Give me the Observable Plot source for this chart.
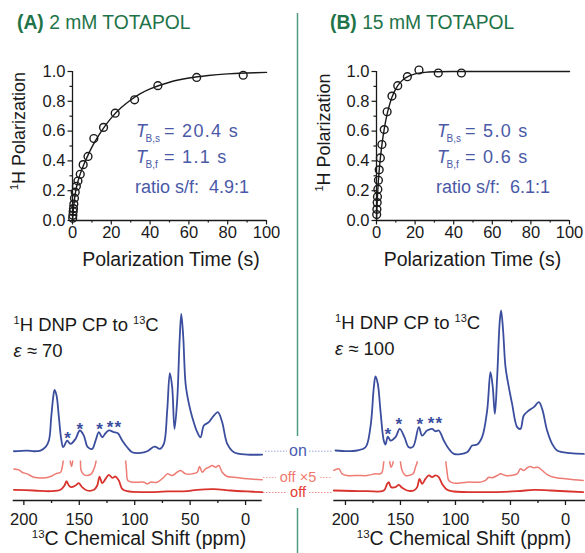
<!DOCTYPE html>
<html>
<head>
<meta charset="utf-8">
<script src="https://cdn.jsdelivr.net/npm/d3@7"></script>
<script src="https://cdn.jsdelivr.net/npm/@observablehq/plot@0.6"></script>
<style>
  html, body { margin: 0; padding: 0; background: #fff; }
  #fig { position: relative; width: 585px; height: 553px; overflow: hidden; background: #fff; }
  .panel { position: absolute; }
</style>
</head>
<body>
<div id="fig"></div>
<script>
// ---------------- DATA ----------------
// (A) 2 mM TOTAPOL – 1H polarization build-up
const timesA = [0.1,0.2,0.35,0.5,0.7,1,1.4,2,2.8,4,5.5,8,11,16,22,32,44,64,88];
const polA   = [0.015,0.035,0.06,0.08,0.11,0.15,0.19,0.23,0.265,0.31,0.375,0.43,0.55,0.625,0.72,0.81,0.905,0.96,0.975];
const fitTimesA = [0,0.25,0.5,1,1.5,2,3,4,6,8,10,12,15,20,25,30,35,40,50,60,70,80,90,100];
const fitPolA   = [0,0.045,0.082,0.141,0.185,0.22,0.272,0.313,0.381,0.439,0.492,0.539,0.602,0.689,0.756,0.809,0.851,0.883,0.928,0.956,0.973,0.984,0.99,0.994];
// (B) 15 mM TOTAPOL
const timesB = [0.1,0.2,0.35,0.5,0.7,1,1.4,2,2.8,4,5.5,8,11,16,22,32,44];
const polB   = [0.04,0.075,0.12,0.16,0.21,0.27,0.34,0.42,0.51,0.61,0.73,0.835,0.905,0.965,1.01,0.99,0.99];
const fitTimesB = [0,0.25,0.5,0.75,1,1.5,2,3,4,5,6,8,10,12,15,20,25,30,40,60,100];
const fitPolB   = [0,0.09,0.162,0.22,0.27,0.352,0.419,0.528,0.614,0.684,0.741,0.827,0.884,0.922,0.957,0.984,0.994,0.998,1,1,1];

const timeTicks = [0,20,40,60,80,100];
const timeMinor = [10,30,50,70,90];
const polTicks  = [0,0.2,0.4,0.6,0.8,1.0];
const polMinor  = [0.1,0.3,0.5,0.7,0.9];

// 13C CP spectra: [ppm, intensity] (intensity relative to tallest "on" peak = 100)
const onA = [[209.0,0.7],[197.0,1.2],[191.0,0.7],[185.0,1.2],[180.5,3.6],[177.4,8.4],[175.3,25.3],[173.5,39.8],[172.3,45.1],[170.5,41.0],[168.4,25.3],[166.3,9.6],[164.5,3.6],[160.9,8.4],[157.9,6.0],[153.4,9.6],[149.5,15.7],[145.9,12.0],[142.3,3.6],[138.3,2.4],[135.3,8.4],[132.3,14.5],[129.3,10.8],[126.3,13.7],[123.3,15.7],[118.8,14.5],[115.2,13.7],[111.3,8.4],[106.8,3.6],[102.3,0],[94.7,-0.5],[88.7,0.7],[82.1,4.1],[77.3,2.4],[73.7,6.0],[70.7,30.1],[68.3,57.1],[66.2,47.0],[64.1,16.9],[61.7,37.3],[59.5,80.7],[58.0,100],[56.2,83.1],[54.1,49.4],[51.1,34.9],[48.1,25.3],[43.6,14.5],[40.6,10.8],[37.6,19.3],[33.1,21.7],[28.6,26.5],[25.0,28.9],[21.1,21.7],[16.5,6.0],[10.5,0],[-1.5,-1.7],[-15.0,-1.7]];
const off5A = [[209.0,6.0],[204.5,5.3],[201.5,3.6],[197.0,2.4],[191.0,0],[182.0,-0.5],[175.9,0.5],[171.4,2.4],[166.9,3.6],[165.4,7.2],[164.5,12.0],[163.3,22],[161.5,33],[159.5,22],[158.5,13.5],[157.0,7.7],[155.5,13.5],[153.5,20],[151.5,27],[150.0,25],[149.0,13.5],[148.3,4.8],[145.9,1.9],[142.3,1.2],[139.2,2.4],[136.2,7.2],[134.7,12.5],[133.5,25],[131.7,50],[129.5,28],[126.3,42],[123.3,56],[120.3,46],[117.3,50],[114.3,36],[111.3,25],[109.0,18],[108.3,13.3],[107.4,4.8],[106.2,-2.4],[102.3,-3.6],[91.7,-3.6],[88.7,-4.8],[85.7,-3.6],[79.7,-3.6],[73.7,0],[70.7,2.4],[66.2,1.2],[61.7,3.6],[58.6,4.8],[54.1,2.4],[48.1,2.4],[43.6,3.6],[41.5,7.7],[39.1,3.6],[36.1,6.0],[33.1,7.2],[30.1,8.4],[27.1,7.2],[24.1,8.4],[21.1,3.6],[16.5,0.5],[10.5,0],[-1.5,-1.2],[-15.0,-1.9]];
const offA = [[209.0,0.5],[191.0,0],[175.9,-0.5],[166.9,0.5],[163.3,3.6],[161.5,6.7],[159.4,3.6],[157.3,2.4],[153.4,3.6],[150.4,5.3],[147.4,2.4],[142.9,0],[136.8,0.5],[133.8,3.6],[131.7,10.1],[129.3,5.3],[126.3,8.4],[123.3,11.3],[120.3,9.2],[117.3,10.1],[114.3,7.2],[111.3,1.2],[106.8,-0.5],[91.7,-1.2],[70.7,-0.7],[52.6,-0.5],[43.6,0.5],[28.6,1.0],[13.5,0],[-1.5,-0.7],[-15.0,-1.2]];
const starsA = [[160.5,13.3],[149.5,19.8],[131.7,19.8],[122.3,20.8],[115.3,20.8]];

const onB = [[209.1,0.5],[198.5,0],[189.4,0.5],[181.8,2.8],[177.3,17.1],[174.2,45.5],[172.7,53.1],[170.6,47.9],[168.2,28.9],[165.2,7.6],[163.6,4.7],[161.5,10.4],[159.1,7.6],[154.5,10.0],[150.6,15.9],[146.4,10.0],[142.4,2.8],[138.5,3.3],[133.3,17.1],[130.3,11.1],[125.8,14.7],[121.2,15.9],[118.2,14.2],[115.2,14.7],[110.6,7.6],[106.1,1.7],[101.5,-1.9],[89.4,-0.7],[84.8,4.0],[80.3,4.7],[75.8,10.0],[71.2,28.9],[68.2,56.2],[66.1,45.5],[64.2,26.5],[62.1,52.6],[59.7,92.9],[58.5,100],[56.7,85.8],[54.5,59.7],[51.5,45.5],[48.5,33.6],[43.9,17.1],[40.9,15.9],[37.9,25.4],[33.3,28.9],[28.8,31.3],[24.2,34.8],[21.2,30.1],[16.7,14.7],[12.1,5.2],[7.6,0.5],[-4.5,-1.4],[-16.7,-1.9]];
const off5B = [[210.6,4.3],[206.1,5.5],[203.0,1.9],[198.5,0.7],[187.9,0.7],[180.3,0.7],[172.7,1.9],[168.2,1.9],[166.7,3.1],[165.2,10.2],[163.6,20],[161.5,30],[160.4,18],[159.7,10.2],[158.5,6.6],[156.7,10.2],[155.6,18],[153.0,26],[151.2,28],[150.6,18],[150.0,10.2],[148.5,4.3],[145.5,0.7],[142.4,0.7],[138.5,1.9],[136.4,6.6],[134.8,10.2],[133.8,22],[132.7,42],[130.3,24],[127.3,42],[124.2,54],[121.2,48],[118.2,54],[115.2,48],[112.1,24],[110.0,16],[109.1,12.6],[107.6,3.1],[106.1,-2.8],[101.5,-4.7],[89.4,-4.0],[77.3,-4.0],[72.7,-2.8],[69.7,-0.5],[66.7,-0.9],[62.1,0.7],[59.1,1.9],[54.5,0.7],[50.0,0.7],[43.9,1.9],[40.9,5.5],[37.9,4.3],[34.8,6.2],[31.8,7.1],[28.8,6.2],[25.2,6.6],[21.2,4.3],[16.7,1.4],[10.6,-0.5],[-1.5,-1.7],[-16.1,-2.8]];
const offB = [[210.6,0],[180.3,-0.5],[165.2,0],[162.1,4.7],[160.6,5.9],[158.5,2.4],[154.5,2.4],[151.5,4.0],[148.5,1.9],[143.9,0],[137.9,0],[134.8,2.4],[132.7,8.3],[130.3,4.7],[127.3,8.3],[124.2,10.7],[121.2,9.5],[118.2,10.7],[115.2,9.5],[112.1,4.7],[107.6,0.5],[101.5,-0.7],[74.2,-1.2],[43.9,-0.5],[28.8,0.5],[13.6,0],[-16.1,-1.2]];
const starsB = [[161.5,14.7],[151.5,21.8],[132.4,21.8],[122.1,22.5],[115.2,22.5]];

const ppmTicks = [200,150,100,50,0];
const ppmMinor = [175,125,75,25];

// ---------------- STYLE ----------------
const FONT = "'Liberation Sans', Arial, Helvetica, sans-serif";
const INK = "#1a1a1a", BLUE = "#3b4e9e", ANNOT = "#4a59a7";
const SALMON = "#ee7b74", RED = "#d9332e";
const GREEN_T = "#1e7348", GREEN_L = "#4f9d80";

const fig = document.getElementById("fig");
function place(node, left, top) {
  const d = document.createElement("div");
  d.className = "panel";
  d.style.left = left + "px"; d.style.top = top + "px";
  d.appendChild(node); fig.appendChild(d);
}

function buildup(times, pol, fitT, fitP, width, marginLeft, marginRight) {
  const pts = times.map((t, i) => ({t, p: pol[i]}));
  const fit = fitT.map((t, i) => ({t, p: fitP[i]}));
  return Plot.plot({
    width, height: 290, marginLeft, marginRight, marginTop: 71, marginBottom: 70,
    x: {domain: [0, 100], label: null},
    y: {domain: [0, 1], label: null},
    style: {fontFamily: FONT, fontSize: "16.5px", background: "transparent", color: INK},
    marks: [
      Plot.axisX({ticks: timeTicks, tickSize: 4.5, tickPadding: 1.5, strokeWidth: 1.2, label: null}),
      Plot.axisX({ticks: timeMinor, tickSize: 2.5, tickFormat: () => "", strokeWidth: 1.2, label: null}),
      Plot.axisY({ticks: polTicks, tickSize: 4.5, tickPadding: 2.5, tickFormat: d => d.toFixed(1), strokeWidth: 1.2, label: null}),
      Plot.axisY({ticks: polMinor, tickSize: 2.5, tickFormat: () => "", strokeWidth: 1.2, label: null}),
      Plot.ruleX([0], {stroke: INK, strokeWidth: 1.3}),
      Plot.ruleY([0], {stroke: INK, strokeWidth: 1.3}),
      Plot.line(fit, {x: "t", y: "p", curve: "catmull-rom", stroke: INK, strokeWidth: 1.4}),
      Plot.dot(pts, {x: "t", y: "p", r: 3.9, stroke: INK, strokeWidth: 1.4, fill: "none"})
    ]
  });
}

function spectrum(on, off5, off, stars, width, marginLeft, marginRight, domain, base, k, ceil, clipId) {
  const plot = Plot.plot({
    width, height: 253, marginLeft, marginRight, marginTop: 0, marginBottom: 53,
    x: {domain, label: null},
    y: {domain: [0, 200], axis: null},
    style: {fontFamily: FONT, fontSize: "16.5px", background: "transparent", color: INK},
    marks: [
      Plot.ruleY([0], {stroke: INK, strokeWidth: 1.4}),
      Plot.axisX({ticks: ppmTicks, tickSize: 5, tickPadding: 8, strokeWidth: 1.3, label: null}),
      Plot.axisX({ticks: ppmMinor, tickSize: 3, tickFormat: () => "", strokeWidth: 1.3, label: null}),
      Plot.line(on, {x: d => d[0], y: d => base[0] + k * d[1], curve: "catmull-rom", stroke: BLUE, strokeWidth: 1.8}),
      Plot.line(off5, {x: d => d[0], y: d => base[1] + k * d[1], curve: "catmull-rom", stroke: SALMON, strokeWidth: 1.5}),
      Plot.line(off, {x: d => d[0], y: d => base[2] + k * d[1], curve: "catmull-rom", stroke: RED, strokeWidth: 1.8}),
      Plot.text(stars, {x: d => d[0], y: d => base[0] + k * d[1], text: () => "*", fill: BLUE, fontSize: 17, fontWeight: "bold", dy: 4.5})
    ]
  });
  // the "off ×5" trace is cut off above a ceiling (as in the original figure)
  const ns = "http://www.w3.org/2000/svg";
  const yc = plot.scale("y").apply(ceil);
  const defs = document.createElementNS(ns, "defs");
  const cp = document.createElementNS(ns, "clipPath");
  cp.setAttribute("id", clipId);
  const r = document.createElementNS(ns, "rect");
  r.setAttribute("x", 0); r.setAttribute("y", yc);
  r.setAttribute("width", width); r.setAttribute("height", 253 - yc);
  cp.appendChild(r); defs.appendChild(cp);
  plot.insertBefore(defs, plot.firstChild);
  let g = plot.querySelector(`g[stroke="${SALMON}"]`);
  if (!g) g = plot.querySelectorAll('g[aria-label="line"]')[1];
  if (g) g.setAttribute("clip-path", `url(#${clipId})`);
  return plot;
}

place(buildup(timesA, polA, fitTimesA, fitPolA, 297, 72, 31), 0, 0);
place(buildup(timesB, polB, fitTimesB, fitPolB, 288, 79, 16), 297, 0);
place(spectrum(onA, off5A, offA, starsA, 297, 12.7, 35.3, [209.6, -15], [48.3, 23.3, 10], 1.383, 40, "clipA"), 0, 300);
place(spectrum(onB, off5B, offB, starsB, 288, 36.3, 0, [210.6, -18.2], [49.3, 24, 10], 1.407, 39.3, "clipB"), 297, 300);

// ---------------- TEXT OVERLAY ----------------
const ov = d3.create("svg")
  .attr("width", 585).attr("height", 553)
  .style("position", "absolute").style("left", "0px").style("top", "0px")
  .style("font-family", FONT).style("pointer-events", "none");

// divider
ov.append("line").attr("x1", 297.5).attr("x2", 297.5).attr("y1", 13).attr("y2", 436).attr("stroke", GREEN_L).attr("stroke-width", 1.5);
ov.append("line").attr("x1", 297.5).attr("x2", 297.5).attr("y1", 508).attr("y2", 553).attr("stroke", GREEN_L).attr("stroke-width", 1.5);

function title(x, label, rest) {
  const t = ov.append("text").attr("x", x).attr("y", 29).attr("fill", GREEN_T).attr("font-size", 19.3);
  t.append("tspan").attr("font-weight", "bold").text(label);
  t.append("tspan").text(rest);
}
title(17, "(A)", "\u00a02 mM TOTAPOL");
title(330, "(B)", "\u00a015 mM TOTAPOL");

function tAnnot(x, y, sub, rest) {
  const t = ov.append("text").attr("x", x).attr("y", y).attr("fill", ANNOT).attr("font-size", 18);
  t.append("tspan").attr("font-style", "italic").text("T");
  t.append("tspan").attr("font-size", 10).attr("x", x + 9.5).attr("dy", 5).text(sub);
  t.append("tspan").attr("font-size", 18).attr("x", x + 28).attr("dy", -5)
    .attr("letter-spacing", 1.3).text("= " + rest);
}
tAnnot(136, 137, "B,s", "20.4 s");
tAnnot(136, 163, "B,f", "1.1 s");
ov.append("text").attr("x", 135).attr("y", 193).attr("fill", ANNOT).attr("font-size", 18).text("ratio s/f:\u00a0\u00a04.9:1");
tAnnot(437, 137, "B,s", "5.0 s");
tAnnot(437, 163, "B,f", "0.6 s");
ov.append("text").attr("x", 436).attr("y", 193).attr("fill", ANNOT).attr("font-size", 18).text("ratio s/f:\u00a0\u00a06.1:1");

function yTitle(x, y) {
  const t = ov.append("text").attr("transform", `translate(${x},${y}) rotate(-90)`)
    .attr("text-anchor", "middle").attr("fill", INK).attr("font-size", 18);
  t.append("tspan").attr("font-size", 11).attr("dy", -7).text("1");
  t.append("tspan").attr("dy", 7).text("H Polarization");
}
yTitle(25, 131);
yTitle(330, 132.5);

function xTitle(x, y, text) {
  ov.append("text").attr("x", x).attr("y", y).attr("text-anchor", "middle").attr("fill", INK).attr("font-size", 19.5).text(text);
}
xTitle(171, 265.5, "Polarization Time (s)");
xTitle(472.5, 265.5, "Polarization Time (s)");

function ppmTitle(x, y) {
  const t = ov.append("text").attr("x", x).attr("y", y).attr("text-anchor", "middle").attr("fill", INK).attr("font-size", 19.5);
  t.append("tspan").attr("font-size", 11.5).attr("dy", -7).text("13");
  t.append("tspan").attr("dy", 7).text("C Chemical Shift (ppm)");
}
ppmTitle(139, 545);
ppmTitle(464, 545);

function cpLabel(x, y, eps) {
  const t = ov.append("text").attr("x", x).attr("y", y).attr("fill", INK).attr("font-size", 18.5);
  t.append("tspan").attr("font-size", 11).attr("dy", -7).text("1");
  t.append("tspan").attr("dy", 7).text("H DNP CP to ");
  t.append("tspan").attr("font-size", 11).attr("dy", -7).text("13");
  t.append("tspan").attr("dy", 7).text("C");
  const e = ov.append("text").attr("x", x).attr("y", y + 26).attr("fill", INK).attr("font-size", 18.5);
  e.append("tspan").attr("font-style", "italic").text("\u03b5");
  e.append("tspan").text("\u00a0\u2248 " + eps);
}
cpLabel(13.5, 330.5, "70");
cpLabel(335, 328.5, "100");

// on / off labels with dotted leaders
function traceLabel(text, y, size, color, lead, l1, l2, r1, r2) {
  ov.append("text").attr("x", 298).attr("y", y).attr("text-anchor", "middle").attr("fill", color).attr("font-size", size).text(text);
  const ly = y - 4.5;
  [[l1, l2], [r1, r2]].forEach(([a, b]) =>
    ov.append("line").attr("x1", a).attr("x2", b).attr("y1", ly).attr("y2", ly)
      .attr("stroke", lead).attr("stroke-width", 1).attr("stroke-dasharray", "1.5,1.5"));
}
traceLabel("on", 455.7, 16, "#4a5cb0", "#9aa6d6", 265, 287, 309, 332);
traceLabel("off \u00d75", 482, 14.5, "#f07a70", "#f3a49d", 263, 276, 320, 332);
traceLabel("off", 497, 14.5, "#e23a32", "#ef8f88", 263, 287, 309, 332);

fig.appendChild(ov.node());
</script>
</body>
</html>
